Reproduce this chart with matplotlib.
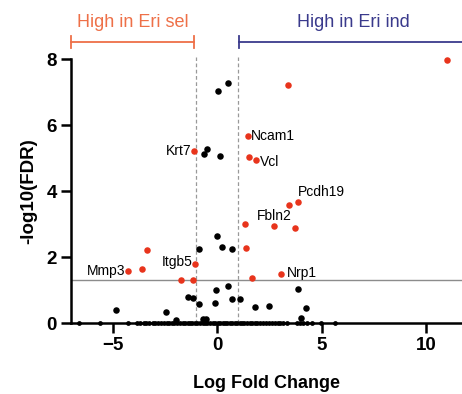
import matplotlib
matplotlib.use("Agg")
import matplotlib.pyplot as plt

plt.rcParams['font.family'] = ['Liberation Sans', 'DejaVu Sans']

# significant genes (red)
sig_x = [11.0, 3.40, 1.45, 1.52, 1.85, -1.10, 3.85, 3.43, 1.33, 2.71, 3.70, 1.37,
         3.06, 1.68, -3.38, -4.26, -3.59, -1.05, -1.74, -1.18]
sig_y = [7.97, 7.21, 5.68, 5.02, 4.93, 5.21, 3.68, 3.58, 2.99, 2.94, 2.89, 2.28,
         1.48, 1.37, 2.22, 1.59, 1.64, 1.80, 1.31, 1.32]

# non-significant genes (black)
ns_x = [0.53, 0.05, -0.51, -0.64, 0.13, -0.89, 0.00, 0.22, 0.72, 0.51, -0.08,
        -1.39, -1.15, -0.88, -0.11, 0.72, 1.10, 1.82, 2.46, 3.86, 4.24, 4.02,
        -4.85, -2.47, -1.99, -0.67, -0.54]
ns_y = [7.28, 7.03, 5.28, 5.13, 5.07, 2.23, 2.65, 2.31, 2.23, 1.13, 0.99,
        0.80, 0.76, 0.57, 0.60, 0.72, 0.74, 0.48, 0.51, 1.03, 0.46, 0.15,
        0.40, 0.34, 0.09, 0.11, 0.11]

# genes with FDR ~ 1 (on the x axis)
zero_x = [-6.61, -5.61, -4.25, -3.85, -3.70, -3.52, -3.41, -3.25, -3.10, -2.98,
          -2.83, -2.70, -2.55, -2.41, -2.30, -2.18, -2.05, -1.92, -1.80, -1.66,
          -1.55, -1.42, -1.30, -1.20, -1.08, -0.95, -0.83, -0.70, -0.58, -0.47,
          -0.35, -0.22, -0.12, 0.02, 0.12, 0.25, 0.36, 0.48, 0.60, 0.71, 0.83,
          0.95, 1.07, 1.18, 1.30, 1.41, 1.55, 1.66, 1.80, 1.92, 2.05, 2.20,
          2.33, 2.47, 2.60, 2.75, 2.88, 3.02, 3.15, 3.35, 3.82, 3.97, 4.10,
          4.30, 4.51, 4.95, 5.63]
zero_y = [0.0] * len(zero_x)

labels = ["Krt7", "Ncam1", "Vcl", "Pcdh19", "Fbln2", "Nrp1", "Mmp3", "Itgb5"]
label_idx = [5, 2, 4, 6, 9, 12, 15, 17]
label_off = [(-2, 0), (2, 0), (3, -1), (0, 7), (0, 7), (4, 1), (-2, 0), (-2, 1)]
label_ha = ["right", "left", "left", "left", "center", "left", "right", "right"]

red = "#e8341c"
orange = "#ee7048"
navy = "#3a3a8c"

fig = plt.figure(figsize=(4.62, 3.94), dpi=100)
ax = fig.add_axes([0.1537, 0.180, 0.846, 0.670])
ax.set_xlim(-7, 11.7)
ax.set_ylim(0, 8)

ax.axhline(1.3, color="#8c8c8c", lw=1.0, zorder=1)
for xv in (-1, 1):
    ax.plot([xv, xv], [0, 8.05], ls=(0, (3, 2)), color="#999999", lw=0.9,
            clip_on=False, zorder=1)

ax.scatter(zero_x, zero_y, s=12, color="black", zorder=3, clip_on=False, lw=0)
ax.scatter(ns_x, ns_y, s=22, color="black", zorder=3, clip_on=False, lw=0)
ax.scatter(sig_x, sig_y, s=22, color=red, zorder=4, clip_on=False, lw=0)

for name, i, off, ha in zip(labels, label_idx, label_off, label_ha):
    ax.annotate(name, (sig_x[i], sig_y[i]), xytext=off, textcoords="offset points",
                ha=ha, va="center", fontsize=10)

# group brackets above the plot
yb = 8.52
ax.plot([-7, -1.1], [yb, yb], color=orange, lw=1.3, clip_on=False)
for xv in (-7, -1.1):
    ax.plot([xv, xv], [yb - 0.18, yb + 0.18], color=orange, lw=1.3, clip_on=False)
ax.plot([1.05, 11.7], [yb, yb], color=navy, lw=1.3, clip_on=False)
ax.plot([1.05, 1.05], [yb - 0.18, yb + 0.18], color=navy, lw=1.3, clip_on=False)
ax.text(-4.03, 9.12, "High in Eri sel", color=orange, fontsize=13,
        ha="center", va="center")
ax.text(6.5, 9.12, "High in Eri ind", color=navy, fontsize=13,
        ha="center", va="center")

for s in ("top", "right"):
    ax.spines[s].set_visible(False)
for s in ("left", "bottom"):
    ax.spines[s].set_linewidth(1.8)
ax.spines["left"].set_bounds(0, 8)

ax.set_xticks([-5, 0, 5, 10])
ax.set_yticks([0, 2, 4, 6, 8])
ax.tick_params(width=1.8, length=7, labelsize=13.5, pad=3)
for t in ax.get_xticklabels() + ax.get_yticklabels():
    t.set_fontweight("bold")

ax.set_xlabel("Log Fold Change", fontsize=13, fontweight="bold", labelpad=15)
ax.set_ylabel("-log10(FDR)", fontsize=13.5, fontweight="bold", labelpad=7)

fig.savefig("out.png", dpi=100)
